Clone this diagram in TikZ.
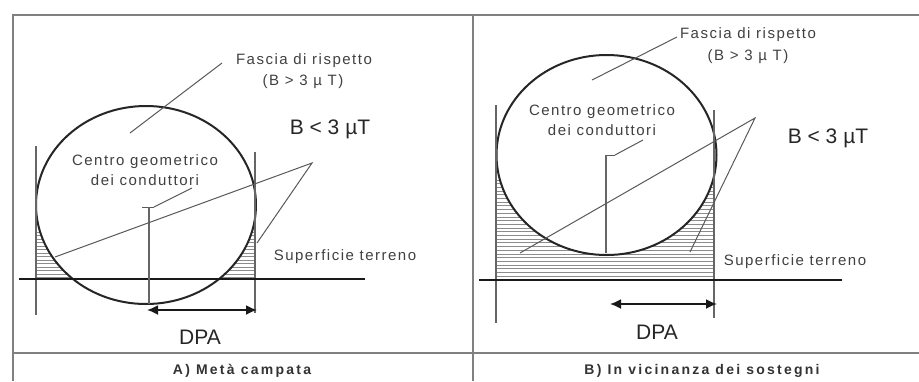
\documentclass[tikz,border=0pt]{standalone}
\usepackage{fontspec}
\setmainfont{Liberation Sans}
\usetikzlibrary{arrows.meta,positioning,calc}

\tikzset{
  frame/.style={draw=black!50,line width=1.8pt},
  ring/.style={draw=black!85,line width=2pt},
  post/.style={draw=black!60,line width=1.4pt},
  ground/.style={draw=black!90,line width=2pt},
  leader/.style={draw=black!65,line width=1pt},
  hatch/.style={draw=black!45,line width=1pt},
  dim/.style={draw=black!90,line width=1.8pt,{Latex[length=11pt,width=10pt]}-{Latex[length=11pt,width=10pt]}},
  lbl/.style={text=black!75,inner sep=0pt,font=\fontsize{15}{18}\selectfont\addfontfeature{LetterSpace=10}},
  big/.style={text=black!85,inner sep=0pt,font=\fontsize{21}{24}\selectfont},
  caption/.style={text=black!80,inner sep=0pt,font=\fontsize{14}{16}\selectfont\bfseries\addfontfeature{LetterSpace=16}},
}

\begin{document}
\begin{tikzpicture}[x=1pt,y=-1pt]
\useasboundingbox (0,0) rectangle (919,381);
% table frame
\draw[frame] (13,381) -- (13,15) -- (919,15);
\draw[frame] (473,15) -- (473,381);
\draw[frame] (13,353) -- (919,353);

% A) meta campata
\coordinate (cA) at (146,205);
\foreach \y in {232,235.5,...,278}
  \draw[hatch] (36,\y) -- (255,\y);
\fill[white] (cA) ellipse [x radius=110,y radius=99];
\draw[ring] (cA) ellipse [x radius=110,y radius=99];
\draw[post] (36,146) -- (36,315);
\draw[post] (255,152) -- (255,313);
\draw[ground] (19,279) -- (365,279);
\coordinate (mA) at (149,207);
\draw[leader] ($(mA)+(-7,0)$) -- ($(mA)+(5,0)$);
\draw[post] (mA) -- (149,304);

\node[lbl] (fasciaA) at (304,61) {Fascia di rispetto};
\node[lbl] (bgtA) at (303,82) {(B > 3 µ T)};
\node[lbl] (centroA) at (145,162) {Centro geometrico};
\node[lbl] (deiA) at (145,180) {dei conduttori};
\node[big] (bltA) at (330,129) {B < 3 µT};
\node[lbl] (superA) at (345,257) {Superficie terreno};
\coordinate (ptrA) at (312,163);
\draw[leader] (222,63) -- (130,133);
\draw[leader] (192,188) -- ($(mA)+(5,0)$);
\draw[leader] (55,257) -- (ptrA) -- (257,243);
\draw[dim] (147,310) -- (257,310);
\node[big] (dpaA) at (200,337) {DPA};
\node[caption] (capA) at (242,371) {A) Metà campata};

% B) in vicinanza dei sostegni
\coordinate (cB) at (606.5,155);
\foreach \y in {180,183.7,...,278}
  \draw[hatch] (496,\y) -- (714,\y);
\fill[white] (cB) ellipse [x radius=110,y radius=100];
\draw[ring] (cB) ellipse [x radius=110,y radius=100];
\draw[post] (496,105) -- (496,323);
\draw[post] (714,110) -- (714,318);
\draw[ground] (479,280) -- (842,280);
\coordinate (mB) at (606,155);
\draw[leader] (mB) -- ($(mB)+(9,0)$);
\draw[post] (mB) -- (606,253);

\node[lbl] (fasciaB) at (748,35) {Fascia di rispetto};
\node[lbl] (bgtB) at (748,57) {(B > 3 µ T)};
\node[lbl] (centroB) at (602,112) {Centro geometrico};
\node[lbl] (deiB) at (602,130) {dei conduttori};
\node[big] (bltB) at (828,138) {B < 3 µT};
\node[lbl] (superB) at (795,262) {Superficie terreno};
\coordinate (ptrB) at (755,118);
\draw[leader] (677,37) -- (592,80);
\draw[leader] (643,140) -- ($(mB)+(9,0)$);
\draw[leader] (520,253) -- (ptrB) -- (690,252);
\draw[dim] (610,304) -- (717,304);
\node[big] (dpaB) at (657,332) {DPA};
\node[caption] (capB) at (702,371) {B) In vicinanza dei sostegni};
\end{tikzpicture}
\end{document}
